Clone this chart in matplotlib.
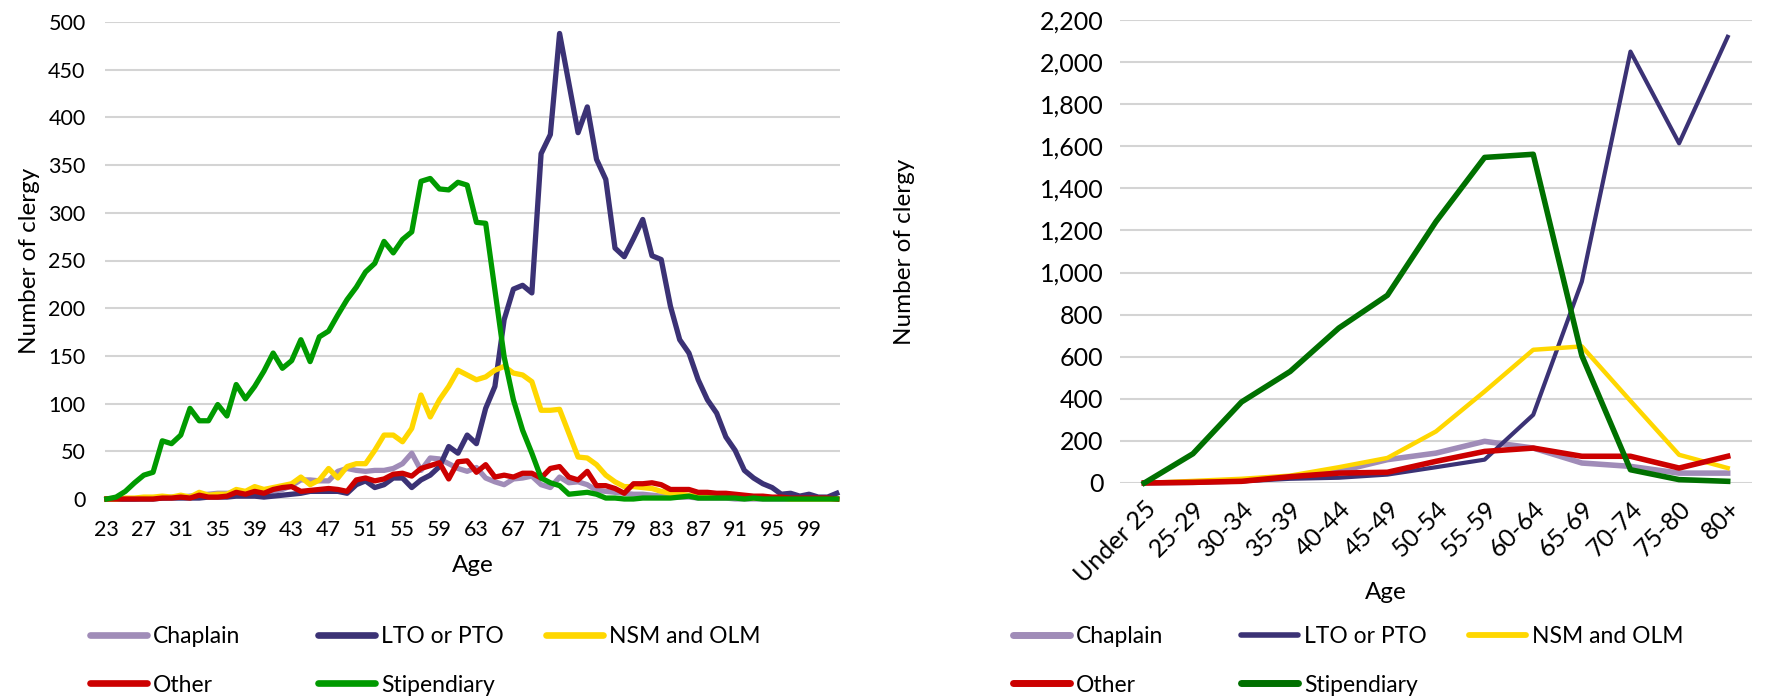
import matplotlib
matplotlib.use("Agg")
import matplotlib.pyplot as plt
from matplotlib.lines import Line2D
from matplotlib.ticker import FuncFormatter

plt.rcParams['font.family'] = ['Lato', 'DejaVu Sans']

# ---- single-year ages (left chart) ----
ages = list(range(23, 103))
chaplain = [0, 0, 0, 0, 1, 1, 1, 2, 2, 3, 4, 5, 6, 6, 6, 5, 5, 6, 8, 10,
            14, 20, 20, 19, 19, 29, 32, 30, 29, 30, 30, 32, 37, 48, 30, 43, 42, 37, 32, 29,
            33, 22, 18, 15, 21, 22, 24, 15, 12, 23, 17, 18, 15, 9, 8, 7, 6, 5, 5, 4,
            3, 3, 2, 2, 1, 1, 1, 1, 0, 0, 0, 0, 0, 0, 0, 0, 0, 0, 0, 0]
lto = [0, 0, 0, 0, 0, 0, 1, 1, 1, 1, 1, 2, 2, 2, 3, 3, 3, 2, 3, 4,
       5, 6, 8, 8, 8, 8, 6, 15, 19, 12, 15, 22, 22, 12, 20, 25, 34, 55, 48, 67,
       58, 95, 118, 188, 220, 224, 216, 362, 382, 488, 436, 384, 411, 356, 335, 263, 254, 273, 293, 255,
       251, 202, 167, 153, 125, 104, 90, 65, 51, 30, 22, 16, 12, 5, 6, 3, 5, 2, 2, 6]
nsm = [0, 0, 1, 1, 2, 2, 3, 2, 4, 2, 7, 4, 5, 5, 10, 8, 13, 10, 12, 14,
       16, 23, 15, 20, 32, 22, 34, 37, 37, 51, 67, 67, 60, 74, 109, 86, 104, 118, 135, 130,
       125, 128, 135, 139, 132, 130, 123, 93, 93, 94, 69, 44, 43, 36, 25, 18, 13, 13, 12, 11,
       8, 6, 5, 4, 3, 3, 2, 2, 2, 1, 1, 1, 1, 1, 0, 0, 0, 0, 0, 0]
other = [0, 0, 0, 0, 0, 0, 1, 1, 2, 1, 4, 2, 2, 3, 7, 5, 8, 6, 10, 12,
         13, 8, 9, 10, 11, 10, 8, 20, 22, 19, 21, 26, 27, 24, 32, 35, 38, 21, 39, 40,
         28, 36, 23, 25, 23, 27, 27, 22, 32, 34, 23, 20, 29, 14, 14, 11, 6, 16, 16, 17,
         15, 10, 10, 10, 7, 7, 6, 6, 5, 4, 3, 3, 2, 2, 1, 1, 1, 1, 1, 0]
stipendiary = [0, 2, 8, 17, 25, 28, 61, 58, 67, 95, 82, 82, 99, 87, 120, 105, 118, 134, 153, 137,
               145, 167, 144, 170, 176, 193, 209, 222, 238, 247, 270, 258, 272, 280, 333, 336, 325, 324, 332, 329,
               290, 289, 219, 149, 104, 72, 48, 22, 17, 14, 5, 6, 7, 5, 1, 1, 0, 0, 1, 1,
               1, 1, 2, 3, 1, 1, 1, 1, 1, 0, 1, 0, 0, 0, 0, 0, 0, 0, 0, 0]
age_ticks = list(range(23, 100, 4))

# ---- five-year bands (right chart) ----
bands = ["Under 25", "25-29", "30-34", "35-39", "40-44", "45-49", "50-54",
         "55-59", "60-64", "65-69", "70-74", "75-80", "80+"]
band_chaplain = [0, 3, 10, 30, 55, 111, 142, 198, 166, 95, 79, 47, 47]
band_lto = [0, 3, 8, 20, 25, 40, 75, 111, 324, 957, 2050, 1614, 2120]
band_nsm = [0, 10, 20, 35, 75, 119, 245, 435, 633, 649, 390, 134, 71]
band_other = [0, 3, 8, 30, 47, 51, 103, 150, 166, 127, 127, 71, 127]
band_stipendiary = [0, 139, 385, 530, 736, 892, 1242, 1547, 1562, 605, 63, 16, 8]

names = ["Chaplain", "LTO or PTO", "NSM and OLM", "Other", "Stipendiary"]
left_colors = ["#A08CB8", "#3B3275", "#FFD700", "#CC0000", "#009A00"]
right_colors = ["#A08CB8", "#3B3275", "#FFD700", "#CC0000", "#007000"]
left_widths = [3.8, 3.8, 3.8, 3.8, 3.8]
right_widths = [4.0, 3.0, 3.2, 4.0, 4.0]

W, H = 1787, 698
fig = plt.figure(figsize=(W / 100, H / 100), dpi=100)
FS = 15.5
GRID = "#D4D4D4"


def style(ax, size):
    for s in ax.spines.values():
        s.set_visible(False)
    ax.grid(axis="y", color=GRID, lw=1.5)
    ax.set_axisbelow(True)
    ax.tick_params(length=0, labelsize=size)


def add_legend(x0, colors, widths):
    handles = [Line2D([], [], color=c, lw=w + 1.0, solid_capstyle="round")
               for c, w in zip(colors, widths)]
    for k, idx in enumerate([[0, 3], [1, 4], [2]]):
        fig.legend([handles[i] for i in idx], [names[i] for i in idx],
                   loc="upper left", bbox_to_anchor=((x0 + k * 228) / W, 1 - 626 / H),
                   frameon=False, fontsize=FS + 1, handlelength=2.5, handletextpad=0.25,
                   labelspacing=1.2, borderpad=0, borderaxespad=0)


# left chart
ax1 = fig.add_axes([105 / W, 1 - 499 / H, 735 / W, 477 / H])
style(ax1, FS)
for data, c, w in zip([chaplain, lto, nsm, other, stipendiary], left_colors, left_widths):
    ax1.plot(ages, data, color=c, lw=w, clip_on=False)
ax1.set_xlim(22.8, 102.35)
ax1.set_ylim(0, 500)
ax1.set_yticks(range(0, 501, 50))
ax1.set_xticks(age_ticks)
ax1.tick_params(axis="y", pad=14)
ax1.tick_params(axis="x", pad=15)
ax1.set_ylabel("Number of clergy", fontsize=FS + 2)
ax1.set_xlabel("Age", fontsize=FS + 2)
ax1.yaxis.set_label_coords(-0.088, 0.5)
ax1.xaxis.set_label_coords(0.5, -0.117)

# right chart
ax2 = fig.add_axes([1120 / W, 1 - 483 / H, 632 / W, 463 / H])
style(ax2, 18)
xs = list(range(len(bands)))
for data, c, w in zip([band_chaplain, band_lto, band_nsm, band_other, band_stipendiary],
                      right_colors, right_widths):
    ax2.plot(xs, data, color=c, lw=w, clip_on=False)
ax2.set_xlim(-0.5, len(bands) - 0.5)
ax2.set_ylim(0, 2200)
ax2.set_yticks(range(0, 2201, 200))
ax2.yaxis.set_major_formatter(FuncFormatter(lambda v, p: f"{v:,.0f}"))
ax2.set_xticks(xs)
ax2.set_xticklabels(bands, rotation=45, ha="right", rotation_mode="anchor")
ax2.tick_params(axis="y", pad=12)
ax2.tick_params(axis="x", pad=10)
ax2.set_ylabel("Number of clergy", fontsize=FS + 2)
ax2.set_xlabel("Age", fontsize=FS + 2)
ax2.yaxis.set_label_coords(-0.324, 0.5)
ax2.xaxis.set_label_coords(0.42, -0.214)

add_legend(90, left_colors, left_widths)
add_legend(1013, right_colors, right_widths)

fig.savefig("out.png", dpi=100, facecolor="white")
